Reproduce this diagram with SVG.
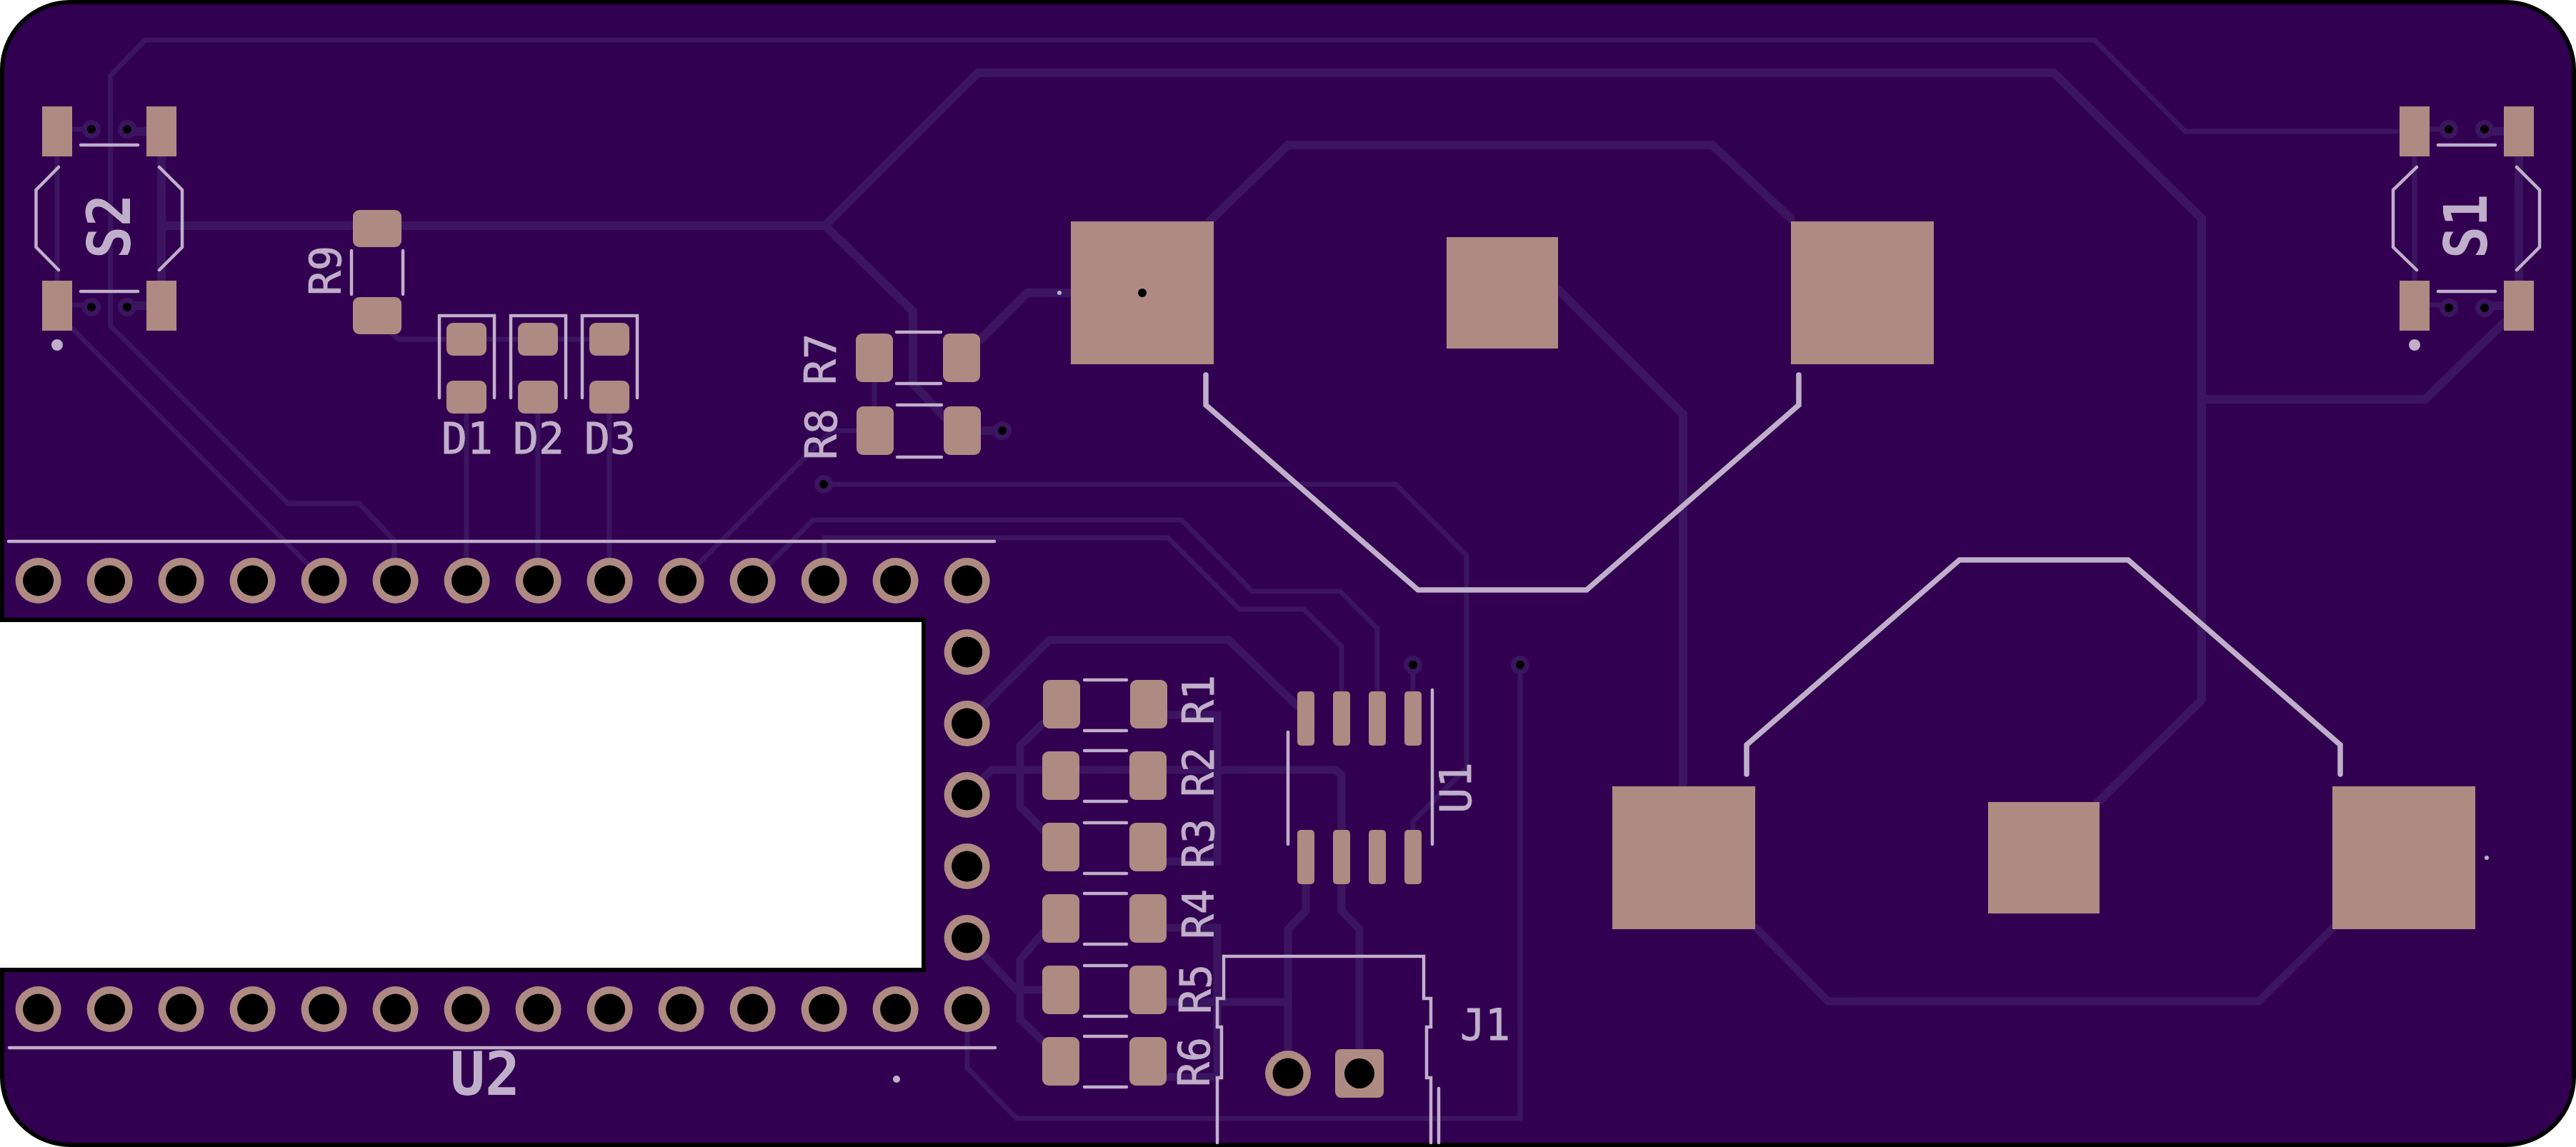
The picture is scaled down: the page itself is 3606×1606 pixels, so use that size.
<svg xmlns="http://www.w3.org/2000/svg" xmlns:xlink="http://www.w3.org/1999/xlink" width="3606" height="1606" viewBox="0 0 3606 1606">
<style>
.t{fill:none;stroke:#3c1560;stroke-linejoin:miter;stroke-linecap:round}
.w6{stroke-width:7}.w12{stroke-width:12}.w10{stroke-width:11}
.p{fill:#ae8a82}
.s{fill:none;stroke:#c0afca;stroke-width:4.500;stroke-linecap:round;stroke-linejoin:miter}
.b{stroke-width:7.500}
.d{fill:#c0afca}
text{fill:#c0afca;font-family:"DejaVu Sans Mono","Liberation Mono",monospace}
.l{font-size:60px;stroke:#c0afca;stroke-width:0.800}
.x{font-size:84px;font-weight:bold}
</style>
<defs>
<g id="th"><circle r="32" fill="#ae8a82"/><circle r="21.5" fill="#000"/></g>
<g id="via"><circle r="13" fill="#3c1560"/><circle r="6" fill="#000"/></g>
<rect id="rp" x="-26" y="-34" width="52" height="68" rx="9" fill="#ae8a82"/>
<rect id="dp" x="-28" y="-23" width="56" height="46" rx="9" fill="#ae8a82"/>
<rect id="up" x="-12" y="-38" width="24" height="76" rx="5" fill="#ae8a82"/>
</defs>
<path id="board" d="M98 3H3508A95 95 0 0 1 3603 98V1508A95 95 0 0 1 3508 1603H98A95 95 0 0 1 3 1508V1358H1293V868H3V98A95 95 0 0 1 98 3Z" fill="#320050" stroke="#000" stroke-width="6"/>
<g id="connectors">
<path class="t w6" d="M552 813V757L503 705H403L154.500 456V106L203 56H2932L3059 184H3359"/>
<path class="t w6" d="M101 460L454 813"/>
<path class="t w6" d="M80 219V393M101 181H128M101 427H128"/>
<path class="t w6" d="M3380 219V393M3401 181H3428M3401 427H3428"/>
<path class="t w12" d="M226 219V393M178 184H205M178 428H205"/>
<path class="t w12" d="M3526 219V393M3478 184H3505M3478 428H3505"/>
<path class="t w12" d="M230 316H1155L1369 102H2875L3082 306V980L2935 1125"/>
<path class="t w12" d="M3082 559H3395L3505 452"/>
<path class="t w12" d="M1155 316L1278 436V537L1324 586"/>
<path class="t w6" d="M540 460L558 475H853"/>
<path class="t w6" d="M653 579V813M753 579V813M853 579V813"/>
<path class="t w6" d="M954 813L1164 603H1199"/>
<path class="t w6" d="M1054 813L1138 728H1654L1753 828H1876L1928 880V968"/>
<path class="t w6" d="M1154 813V753H1635L1735 853H1825L1878 905V968"/>
<path class="t w6" d="M1153 678H1954L2053 778V1075L1978 1150V1162"/>
<path class="t w6" d="M1978 931V968"/>
<path class="t w6" d="M2128 931V1566H1423L1354 1495V1445"/>
<path class="t w12" d="M1373 603H1403"/>
<path class="t w12" d="M1372 476L1438 410H1499"/>
<path class="t w6" d="M1224 535V569"/>
<path class="t w12" d="M1693 310L1803 203H2397L2507 306"/>
<path class="t w12" d="M2181 405L2356 580V1101"/>
<path class="t w10" d="M2457 1298L2559 1402H3162L3267 1298"/>
<path class="t w10" d="M1375 990L1469 896H1720L1828 1000"/>
<path class="t w10" d="M1460 1013L1428 1044V1129L1460 1162"/>
<path class="t w10" d="M1634 1001H1704V1206H1634"/>
<path class="t w10" d="M1378 1088L1388 1078H1870L1878 1085V1275L1903 1301V1469"/>
<path class="t w10" d="M1828 1238V1275L1803 1301V1469"/>
<path class="t w10" d="M1634 1403H1803"/>
<path class="t w10" d="M1634 1299H1704V1508H1634"/>
<path class="t w10" d="M1375 1335L1423 1386H1460"/>
<path class="t w10" d="M1460 1306L1428 1344V1427L1460 1458"/>
</g>
<g id="vias">
<use href="#via" x="1153" y="678"/><use href="#via" x="1403" y="603"/><use href="#via" x="1978" y="931"/><use href="#via" x="2128" y="931"/>
</g>
<g id="S2">
<rect class="p" x="59" y="149" width="42" height="70"/><rect class="p" x="205" y="149" width="42" height="70"/><rect class="p" x="59" y="393" width="42" height="70"/><rect class="p" x="205" y="393" width="42" height="70"/>
<use href="#via" x="128" y="181"/><use href="#via" x="178" y="181"/><use href="#via" x="128" y="430"/><use href="#via" x="178" y="430"/>
<path class="s" d="M113 203H193M113 408H193M82 234L50.500 266V346L82 378M223 234L255 266V346L223 378"/>
<circle class="d" cx="80" cy="483" r="8"/>
<text class="x" transform="translate(182 362) rotate(-90)" textLength="90" lengthAdjust="spacingAndGlyphs">S2</text>
</g>
<g id="S1">
<rect class="p" x="3359" y="149" width="42" height="70"/><rect class="p" x="3505" y="149" width="42" height="70"/><rect class="p" x="3359" y="393" width="42" height="70"/><rect class="p" x="3505" y="393" width="42" height="70"/>
<use href="#via" x="3428" y="181"/><use href="#via" x="3478" y="181"/><use href="#via" x="3428" y="431"/><use href="#via" x="3478" y="431"/>
<path class="s" d="M3413 203H3493M3413 408H3493M3383 234L3350 266V346L3383 378M3523 234L3555 266V346L3523 378"/>
<circle class="d" cx="3380" cy="483" r="8"/>
<text class="x" transform="translate(3481 362) rotate(-90)" textLength="90" lengthAdjust="spacingAndGlyphs">S1</text>
</g>
<g id="R9">
<rect class="p" x="494" y="294" width="68" height="52" rx="9"/><rect class="p" x="494" y="416" width="68" height="52" rx="9"/>
<path class="s" d="M492 351V412M564 351V412"/>
<text class="l" transform="translate(477 414) rotate(-90)" textLength="70" lengthAdjust="spacingAndGlyphs">R9</text>
</g>
<g id="D1">
<use href="#dp" x="653" y="475"/><use href="#dp" x="653" y="556"/>
<path class="s" d="M615 557V442H692V557"/>
<text class="l" x="618" y="635" textLength="72" lengthAdjust="spacingAndGlyphs">D1</text>
</g>
<g id="D2">
<use href="#dp" x="753" y="475"/><use href="#dp" x="753" y="556"/>
<path class="s" d="M715 557V442H792V557"/>
<text class="l" x="718" y="635" textLength="72" lengthAdjust="spacingAndGlyphs">D2</text>
</g>
<g id="D3">
<use href="#dp" x="853" y="475"/><use href="#dp" x="853" y="556"/>
<path class="s" d="M815 557V442H892V557"/>
<text class="l" x="818" y="635" textLength="72" lengthAdjust="spacingAndGlyphs">D3</text>
</g>
<g id="R7">
<use href="#rp" x="1224" y="501"/><use href="#rp" x="1346" y="501"/>
<path class="s" d="M1255 465H1317M1255 537H1317"/>
<text class="l" transform="translate(1170 539) rotate(-90)" textLength="72" lengthAdjust="spacingAndGlyphs">R7</text>
</g>
<g id="R8">
<use href="#rp" x="1225" y="603"/><use href="#rp" x="1347" y="603"/>
<path class="s" d="M1256 567H1318M1256 640H1318"/>
<text class="l" transform="translate(1171 644) rotate(-90)" textLength="72" lengthAdjust="spacingAndGlyphs">R8</text>
</g>
<g id="SW1">
<rect class="p" x="1499" y="310" width="200" height="200"/>
<circle cx="1599" cy="410" r="6" fill="#000"/>
<circle class="d" cx="1483" cy="410" r="3"/>
<rect class="p" x="2025" y="332" width="156" height="156"/>
<rect class="p" x="2507" y="310" width="200" height="200"/>
<path class="s b" d="M1688 525V567L1985 826H2221L2518 567V525"/>
</g>
<g id="SW2">
<rect class="p" x="2257" y="1101" width="200" height="200"/>
<rect class="p" x="2783" y="1123" width="156" height="156"/>
<rect class="p" x="3265" y="1101" width="200" height="200"/>
<circle class="d" cx="3481" cy="1201" r="3"/>
<path class="s b" d="M2445 1084V1043L2743 784H2979L3276 1043V1084"/>
</g>
<g id="R1">
<use href="#rp" x="1486" y="986"/><use href="#rp" x="1608" y="986"/>
<path class="s" d="M1518 952H1577M1518 1023H1577"/>
<text class="l" transform="translate(1699 1015) rotate(-90)" textLength="70" lengthAdjust="spacingAndGlyphs">R1</text>
</g>
<g id="R2">
<use href="#rp" x="1485" y="1086"/><use href="#rp" x="1607" y="1086"/>
<path class="s" d="M1518 1051H1577M1518 1122H1577"/>
<text class="l" transform="translate(1699 1116) rotate(-90)" textLength="70" lengthAdjust="spacingAndGlyphs">R2</text>
</g>
<g id="R3">
<use href="#rp" x="1485" y="1186"/><use href="#rp" x="1607" y="1186"/>
<path class="s" d="M1518 1152H1577M1518 1223H1577"/>
<text class="l" transform="translate(1699 1216) rotate(-90)" textLength="70" lengthAdjust="spacingAndGlyphs">R3</text>
</g>
<g id="R4">
<use href="#rp" x="1485" y="1286"/><use href="#rp" x="1607" y="1286"/>
<path class="s" d="M1518 1251H1577M1518 1322H1577"/>
<text class="l" transform="translate(1699 1315) rotate(-90)" textLength="70" lengthAdjust="spacingAndGlyphs">R4</text>
</g>
<g id="R5">
<use href="#rp" x="1485" y="1386"/><use href="#rp" x="1607" y="1386"/>
<path class="s" d="M1518 1352H1577M1518 1423H1577"/>
<text class="l" transform="translate(1695 1420) rotate(-90)" textLength="70" lengthAdjust="spacingAndGlyphs">R5</text>
</g>
<g id="R6">
<use href="#rp" x="1485" y="1486"/><use href="#rp" x="1607" y="1486"/>
<path class="s" d="M1518 1451H1577M1518 1522H1577"/>
<text class="l" transform="translate(1693 1522) rotate(-90)" textLength="70" lengthAdjust="spacingAndGlyphs">R6</text>
</g>
<g id="U1">
<use href="#up" x="1828" y="1006"/><use href="#up" x="1878" y="1006"/><use href="#up" x="1928" y="1006"/><use href="#up" x="1978" y="1006"/>
<use href="#up" x="1828" y="1200"/><use href="#up" x="1878" y="1200"/><use href="#up" x="1928" y="1200"/><use href="#up" x="1978" y="1200"/>
<path class="s" d="M1803 1025V1182M2005 966V1182"/>
<text class="l" transform="translate(2059 1139) rotate(-90)" textLength="72" lengthAdjust="spacingAndGlyphs">U1</text>
</g>
<g id="J1">
<use href="#th" x="1803" y="1503"/>
<rect class="p" x="1869" y="1469" width="68" height="68" rx="8"/>
<circle cx="1903" cy="1503" r="21" fill="#000"/>
<path class="s" d="M1704 1600V1509H1710V1438H1704V1398H1713V1339H1993V1398H2003V1438H1997V1509H2003V1600M2014 1524V1600"/>
<text class="l" x="2044" y="1456" textLength="70" lengthAdjust="spacingAndGlyphs">J1</text>
</g>
<g id="U2">
<use href="#th" x="53.600" y="813"/><use href="#th" x="153.600" y="813"/><use href="#th" x="253.600" y="813"/><use href="#th" x="353.600" y="813"/><use href="#th" x="453.600" y="813"/><use href="#th" x="553.600" y="813"/><use href="#th" x="653.600" y="813"/><use href="#th" x="753.600" y="813"/><use href="#th" x="853.600" y="813"/><use href="#th" x="953.600" y="813"/><use href="#th" x="1053.600" y="813"/><use href="#th" x="1153.600" y="813"/><use href="#th" x="1253.600" y="813"/><use href="#th" x="1353.600" y="813"/>
<use href="#th" x="1353.600" y="913"/><use href="#th" x="1353.600" y="1013"/><use href="#th" x="1353.600" y="1113"/><use href="#th" x="1353.600" y="1213"/><use href="#th" x="1353.600" y="1313"/>
<use href="#th" x="53.600" y="1413"/><use href="#th" x="153.600" y="1413"/><use href="#th" x="253.600" y="1413"/><use href="#th" x="353.600" y="1413"/><use href="#th" x="453.600" y="1413"/><use href="#th" x="553.600" y="1413"/><use href="#th" x="653.600" y="1413"/><use href="#th" x="753.600" y="1413"/><use href="#th" x="853.600" y="1413"/><use href="#th" x="953.600" y="1413"/><use href="#th" x="1053.600" y="1413"/><use href="#th" x="1153.600" y="1413"/><use href="#th" x="1253.600" y="1413"/><use href="#th" x="1353.600" y="1413"/>
<path class="s" d="M12 758H1392M13 1467H1393"/>
<circle class="d" cx="1255" cy="1511" r="5"/>
<text class="x" x="630" y="1533" textLength="98" lengthAdjust="spacingAndGlyphs">U2</text>
</g>
</svg>
